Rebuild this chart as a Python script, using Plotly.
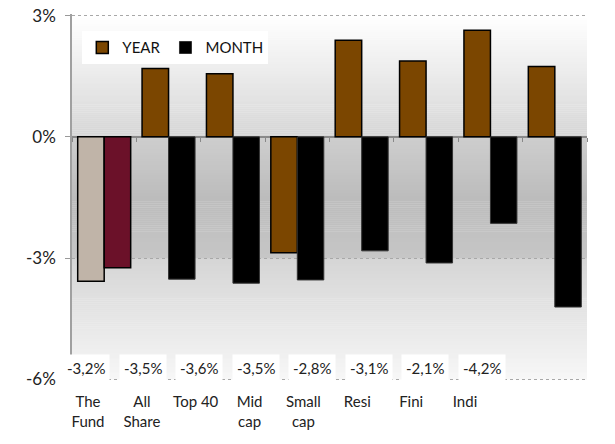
import plotly.graph_objects as go

categories = ["The Fund", "All Share", "Top 40", "Mid cap", "Small cap", "Resi", "Fini", "Indi"]
tick_labels = ["The<br>Fund", "All<br>Share", "Top 40", "Mid<br>cap", "Small<br>cap", "Resi", "Fini", "Indi"]
year_values = [-3.57, 1.69, 1.56, -2.87, 2.39, 1.88, 2.64, 1.74]
month_values = [-3.24, -3.52, -3.62, -3.54, -2.82, -3.12, -2.14, -4.21]
y_ticks = [3, 0, -3, -6]

FONT = "Lato"
BROWN = "#7B4600"
BEIGE = "#C0B4A8"
MAROON = "#6B1129"

fig = go.Figure()

fig.add_trace(go.Bar(x=categories[:1], y=year_values[:1], offsetgroup="year", showlegend=False,
                     marker=dict(color=BEIGE, line=dict(color="#000000", width=1.5)), hoverinfo="skip"))
fig.add_trace(go.Bar(x=categories[:1], y=month_values[:1], offsetgroup="month", showlegend=False,
                     marker=dict(color=MAROON, line=dict(color="#000000", width=1.5)), hoverinfo="skip"))
fig.add_trace(go.Bar(x=categories[1:], y=year_values[1:], offsetgroup="year", name="YEAR",
                     marker=dict(color=BROWN, line=dict(color="#000000", width=1.5))))
fig.add_trace(go.Bar(x=categories[1:], y=month_values[1:], offsetgroup="month", name="MONTH",
                     marker=dict(color="#000000", line=dict(color="#333333", width=1))))

fig.add_trace(go.Scatter(x=list(range(len(categories))), y=[None] * len(categories), xaxis="x2",
                         showlegend=False, hoverinfo="skip", mode="markers"))
fig.add_trace(go.Scatter(x=list(range(len(categories))), y=[None] * len(categories), xaxis="x3",
                         showlegend=False, hoverinfo="skip", mode="markers"))

Y_MIN, Y_MAX = -6, 3
PAD = 0.04


def bg_color(v):
    if v >= 0:
        t = v / 3.0
        g = 214 + (255 - 214) * t
    elif v >= -3:
        if v >= -1.5:
            t = -v / 1.5
            g = 206 + (188 - 206) * t
        else:
            t = (-v - 1.5) / 1.5
            g = 188 + (198 - 188) * t
    else:
        t = (-v - 3) / 3.0
        g = 213 + (247 - 213) * t
    g = int(round(min(255, max(0, g))))
    return f"rgb({g},{g},{g})"


shapes = []
step = 0.05
n = int(round((Y_MAX - Y_MIN) / step))
for i in range(n):
    y0 = Y_MIN + i * step
    y1 = y0 + step
    shapes.append(dict(type="rect", xref="x domain", yref="y", x0=0, x1=1, y0=y0, y1=y1 + 0.01,
                       fillcolor=bg_color((y0 + y1) / 2), line=dict(width=0), layer="below"))

annotations = []
for i, v in enumerate(month_values):
    annotations.append(dict(x=i, y=-5.72, xref="x3", yref="y",
                            text=f"{v:.1f}%".replace(".", ","), showarrow=False,
                            font=dict(family=FONT, size=15, color="#222222"),
                            bgcolor="#ffffff", borderpad=4))

fig.update_layout(
    width=615, height=444,
    margin=dict(l=72, r=28, t=14.4, b=63.4, autoexpand=False),
    paper_bgcolor="#ffffff",
    plot_bgcolor="rgba(0,0,0,0)",
    barmode="group", bargap=0.177, bargroupgap=0,
    font=dict(family=FONT, size=14, color="#222222"),
    shapes=shapes,
    annotations=annotations,
    legend=dict(orientation="h", x=0.02, y=0.953, xanchor="left", yanchor="top",
                bgcolor="#ffffff", font=dict(family=FONT, size=15, color="#111111"),
                itemwidth=30, traceorder="normal"),
    xaxis=dict(type="category", anchor="free", position=(0 - (Y_MIN - PAD)) / (Y_MAX - Y_MIN + 2 * PAD),
               showticklabels=False,
               ticks="outside", tickson="boundaries", ticklen=4, tickcolor="#888888",
               showgrid=False, showline=False, zeroline=False, automargin=False),
    xaxis2=dict(overlaying="x", anchor="y", side="bottom", range=[-0.297, 9.265],
                tickmode="array", tickvals=list(range(len(categories))), ticktext=tick_labels,
                ticks="outside", ticklen=7, tickcolor="rgba(0,0,0,0)",
                tickfont=dict(family=FONT, size=15, color="#222222"),
                showgrid=False, showline=False, zeroline=False, automargin=False),
    xaxis3=dict(overlaying="x", anchor="y", side="bottom", range=[-0.247, 8.855],
                showticklabels=False, ticks="", showgrid=False, showline=False, zeroline=False,
                automargin=False),
    yaxis=dict(range=[Y_MIN - PAD, Y_MAX + PAD], tickmode="array", tickvals=y_ticks,
               ticktext=[f"{t}%" for t in y_ticks], ticklabeloverflow="allow",
               ticks="outside", ticklen=5, tickcolor="#999999", ticklabelstandoff=6,
               tickfont=dict(family=FONT, size=17, color="#222222"),
               showgrid=True, gridcolor="#a8a8a8", griddash="dot", gridwidth=1,
               zeroline=True, zerolinecolor="#8a8a8a", zerolinewidth=1.5,
               showline=True, linecolor="#a0a0a0", linewidth=1.5, automargin=False),
)

fig.write_html("out.html", config={"displayModeBar": False},
               post_script="document.body.style.margin='0px';")
